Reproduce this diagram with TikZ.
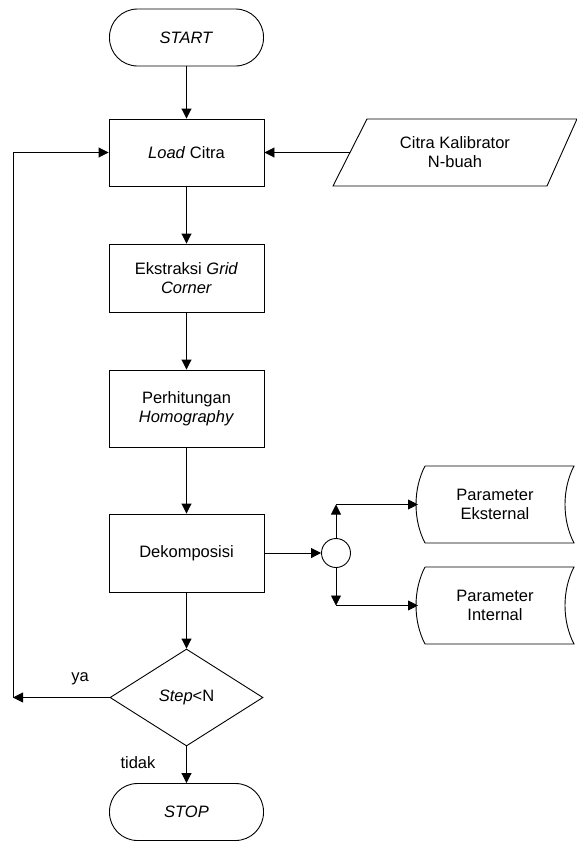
\documentclass[tikz,border=0pt]{standalone}
\usepackage{fontspec}
\setmainfont{Liberation Sans}
\usetikzlibrary{arrows.meta,shapes.geometric}
\begin{document}
\begin{tikzpicture}[x=1pt,y=-1pt,
  font=\fontsize{16.5}{19}\selectfont,
  line width=0.9pt,
  every node/.style={align=center,inner sep=0pt},
  arr/.style={-{Triangle[length=10pt,width=10pt]}},
  proc/.style={draw,rectangle,minimum width=155pt},
  term/.style={draw,rectangle,rounded corners=28pt,minimum width=154pt,minimum height=57pt},
  lbl/.style={font=\fontsize{16.5}{19}\selectfont}
]
\useasboundingbox (0,0) rectangle (576,841);
% nodes
\node[term] (start) at (186.5,37.5) {\textit{START}};
\node[proc,minimum height=67pt] (load) at (186.5,152.5) {\textit{Load} Citra};
\node[proc,minimum height=68pt] (ekstr) at (186.5,278) {Ekstraksi \textit{Grid}\\\textit{Corner}};
\node[proc,minimum height=77pt] (homo) at (186.5,408.5) {Perhitungan\\\textit{Homography}};
\node[proc,minimum height=78pt] (dek) at (186.5,553) {Dekomposisi};
\node[draw,diamond,minimum width=153pt,minimum height=97pt] (dia) at (186.5,697.5) {\textit{Step}<N};
\node[term] (stop) at (186.5,812) {\textit{STOP}};
\node[draw,circle,minimum size=29pt] (jn) at (336,553) {};
% parallelogram input
\draw (367,119) -- (577,119) -- (547,186) -- (333,186) -- cycle;
\node (kal) at (455,152.5) {Citra Kalibrator\\N-buah};
\coordinate (kalw) at (350,152.5);
% stored data shapes
\draw (425,466) -- (574,466) .. controls (562,489) and (562,520) .. (574,543) -- (425,543) .. controls (413,520) and (413,489) .. (425,466);
\node (ext) at (495,504.5) {Parameter\\Eksternal};
\coordinate (extw) at (418,504.5);
\draw (425,567) -- (574,567) .. controls (562,590) and (562,621) .. (574,644) -- (425,644) .. controls (413,621) and (413,590) .. (425,567);
\node (int) at (495,605.5) {Parameter\\Internal};
\coordinate (intw) at (418,605.5);
% helper coordinates
\coordinate (jt) at (336,504.5);
\coordinate (jb) at (336,605.5);
\coordinate (fb) at (13,697.5);
% connectors
\draw[arr] (start.south) -- (load.north);
\draw[arr] (kalw) -- (load.east);
\draw[arr] (load.south) -- (ekstr.north);
\draw[arr] (ekstr.south) -- (homo.north);
\draw[arr] (homo.south) -- (dek.north);
\draw[arr] (dek.south) -- (dia.north);
\draw[arr] (dia.south) -- (stop.north);
\draw[arr] (dek.east) -- (jn.west);
\draw[arr] (jn.north) -- (jt);
\draw[arr] (jt) -- (extw);
\draw[arr] (jn.south) -- (jb);
\draw[arr] (jb) -- (intw);
\draw[arr] (dia.west) -- (fb);
\draw[arr] (fb) |- (load.west);
% labels
\node (ya) at (80,679) {ya};
\node (tidak) at (138,763) {tidak};
\end{tikzpicture}
\end{document}
